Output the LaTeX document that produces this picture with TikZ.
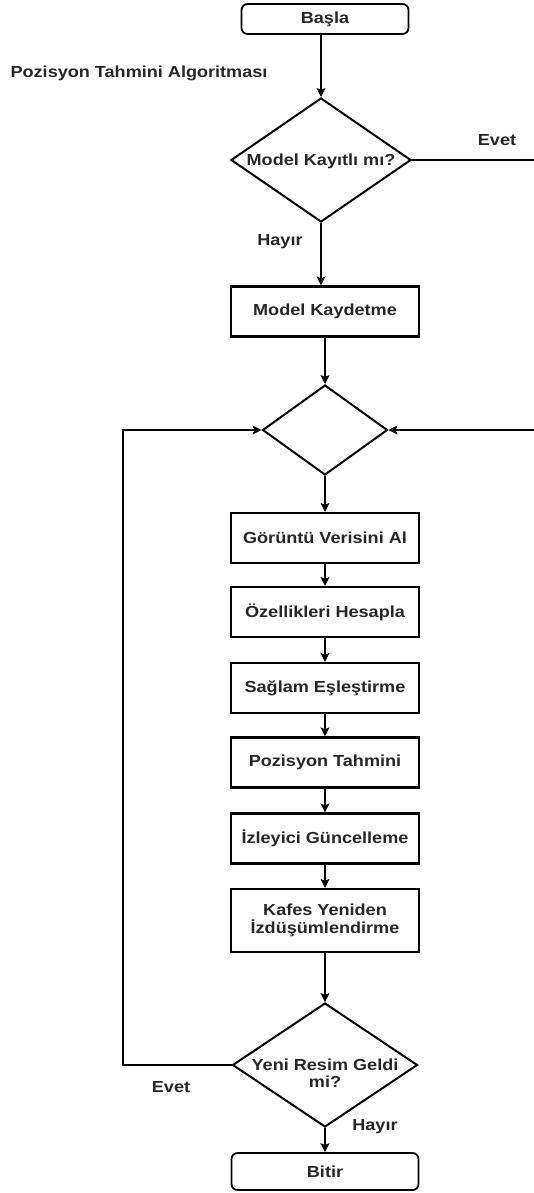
\documentclass[tikz,border=0pt]{standalone}
\usepackage{fontspec}
\setmainfont{Liberation Sans}[FakeStretch=1.13]
\usetikzlibrary{shapes.geometric,arrows.meta}
\begin{document}
\begin{tikzpicture}[x=1pt,y=-1pt,
  font=\bfseries\fontsize{16}{17.5}\selectfont,
  text=black!85,
  proc/.style={draw, line width=2.2pt, minimum width=188pt, minimum height=50pt, inner sep=0pt, align=center},
  term/.style={draw, line width=1.8pt, rounded corners=6pt, inner sep=0pt},
  dec/.style={draw, diamond, line width=2pt, inner sep=0pt},
  txt/.style={inner sep=0pt, align=center},
  conn/.style={line width=1.2pt},
  arr/.style={conn, -{Stealth[length=9pt,width=9pt,inset=2pt]}}]
\useasboundingbox (0,0) rectangle (533,1193);

\node[term, minimum width=167pt, minimum height=30pt] (start) at (325,19) {Başla};
\node[txt] (title) at (139,73) {Pozisyon Tahmini Algoritması};
\node[dec, minimum width=180pt, minimum height=124pt] (d1) at (321,160) {};
\node[txt] (d1t) at (321,161) {Model Kayıtlı mı?};
\node[proc] (mk) at (325,311.5) {Model Kaydetme};
\node[dec, minimum width=125pt, minimum height=90pt] (d2) at (325,430) {};
\node[proc] (g1) at (325,538) {Görüntü Verisini Al};
\node[proc] (g2) at (325,612) {Özellikleri Hesapla};
\node[proc] (g3) at (325,688) {Sağlam Eşleştirme};
\node[proc] (g4) at (325,762.5) {Pozisyon Tahmini};
\node[proc] (g5) at (325,838.5) {İzleyici Güncelleme};
\node[proc, minimum height=63pt] (g6) at (325,920.5) {Kafes Yeniden\\İzdüşümlendirme};
\node[dec, minimum width=185pt, minimum height=124pt] (d3) at (325,1065) {};
\node[txt] (d3t) at (325,1073) {Yeni Resim Geldi\\mi?};
\node[term, minimum width=187pt, minimum height=37pt] (end) at (325,1171.5) {Bitir};

\node[txt] (l1) at (497,140) {Evet};
\node[txt] (l2) at (280,242) {Hayır};
\node[txt] (l3) at (171,1087) {Evet};
\node[txt] (l4) at (375,1127) {Hayır};

\coordinate (r1) at (537,160);
\coordinate (r2) at (537,430);
\coordinate (lc) at (123,1065);

\draw[arr] (start.south -| d1.north) -- (d1.north);
\draw[arr] (d1.south) -- (d1.south |- mk.north);
\draw[conn] (d1.east) -- (r1);
\draw[arr] (r1) -- (r2) -- (d2.east);
\draw[arr] (mk.south) -- (d2.north);
\draw[arr] (d2.south) -- (g1.north);
\draw[arr] (g1.south) -- (g2.north);
\draw[arr] (g2.south) -- (g3.north);
\draw[arr] (g3.south) -- (g4.north);
\draw[arr] (g4.south) -- (g5.north);
\draw[arr] (g5.south) -- (g6.north);
\draw[arr] (g6.south) -- (d3.north);
\draw[arr] (d3.west) -- (lc) |- (d2.west);
\draw[arr] (d3.south) -- (end.north);
\end{tikzpicture}
\end{document}
